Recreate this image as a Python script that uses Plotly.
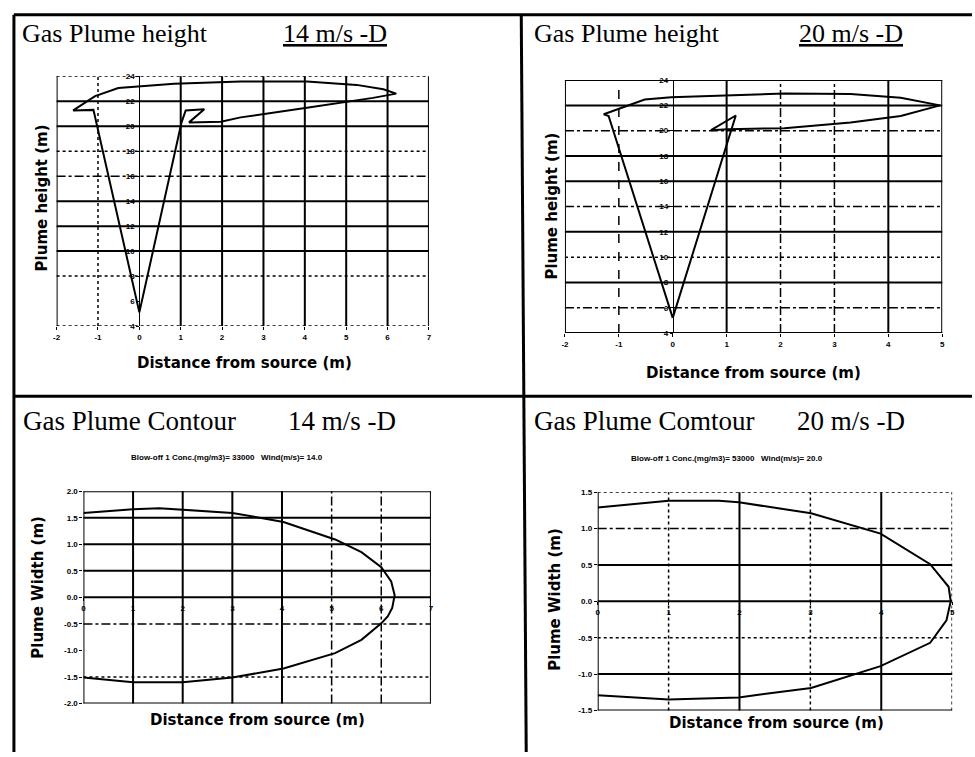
import plotly.graph_objects as go

W, H = 975, 757

# ---------------- data ----------------
# Gas plume height, 14 m/s
h14_x = [0.00, -1.11, -1.60, -1.07, -0.51, 0.84, 2.45, 4.05, 5.25, 5.90, 6.21, 5.65, 4.05, 2.45, 1.97, 1.20, 1.57, 1.12, 1.02, 0.00]
h14_y = [5.1, 21.3, 21.26, 22.4, 23.05, 23.4, 23.58, 23.58, 23.3, 22.95, 22.6, 22.26, 21.47, 20.7, 20.35, 20.3, 21.35, 21.25, 20.3, 5.1]
h14_xticks = [-2, -1, 0, 1, 2, 3, 4, 5, 6, 7]

# Gas plume height, 20 m/s
h20_x = [0.00, -1.19, -1.28, -0.90, -0.52, -0.03, 1.02, 2.07, 3.30, 4.23, 4.96, 4.23, 3.30, 2.07, 1.02, 0.71, 1.17, 0.00]
h20_y = [5.2, 21.16, 21.3, 21.9, 22.46, 22.65, 22.8, 22.93, 22.9, 22.6, 22.0, 21.16, 20.64, 20.2, 20.12, 20.04, 21.2, 5.2]
h20_xticks = [-2, -1, 0, 1, 2, 3, 4, 5]

height_yticks = [4, 6, 8, 10, 12, 14, 16, 18, 20, 22, 24]

# Gas plume contour, 14 m/s
c14_x = [0.0, 1.0, 1.53, 2.0, 3.0, 4.03, 5.07, 5.6, 6.0, 6.2, 6.27, 6.22, 6.13, 6.0, 5.6, 5.07, 4.03, 3.0, 2.0, 1.0, 0.0]
c14_y = [1.59, 1.66, 1.68, 1.65, 1.59, 1.42, 1.09, 0.85, 0.57, 0.3, 0.04, -0.2, -0.36, -0.49, -0.8, -1.05, -1.34, -1.51, -1.6, -1.6, -1.51]
c14_xticks = [0, 1, 2, 3, 4, 5, 6, 7]
c14_yticks = [-2.0, -1.5, -1.0, -0.5, 0.0, 0.5, 1.0, 1.5, 2.0]

# Gas plume contour, 20 m/s
c20_x = [0.0, 1.0, 1.71, 1.99, 3.01, 3.99, 4.69, 4.95, 4.98, 4.92, 4.69, 3.99, 3.01, 1.99, 1.0, 0.0]
c20_y = [1.29, 1.38, 1.38, 1.36, 1.21, 0.93, 0.51, 0.2, 0.0, -0.26, -0.57, -0.89, -1.19, -1.32, -1.35, -1.29]
c20_xticks = [0, 1, 2, 3, 4, 5]
c20_yticks = [-1.5, -1.0, -0.5, 0.0, 0.5, 1.0, 1.5]

titles = ["Gas Plume height", "Gas Plume height", "Gas Plume Contour", "Gas Plume Comtour"]
speeds = ["14 m/s -D", "20 m/s -D", "14 m/s -D", "20 m/s -D"]
subtitles = ["Blow-off 1 Conc.(mg/m3)= 33000   Wind(m/s)= 14.0",
             "Blow-off 1 Conc.(mg/m3)= 53000   Wind(m/s)= 20.0"]
x_title = "Distance from source (m)"
y_titles = ["Plume height (m)", "Plume height (m)", "Plume Width (m)", "Plume Width (m)"]

# ---------------- styling of grid lines (scanned look), in tick order ----------------
S, D, DD, DA, N = "solid", "dot", "dashdot", "dash", None
grid_styles = {
    1: dict(h=[D, N, D, S, S, S, DD, D, S, S, D], v=[S, D, N, S, S, S, S, S, S, S]),
    2: dict(h=[S, DD, S, D, S, DD, S, S, DD, S, S], v=[S, DA, N, S, DD, DD, S, S]),
    3: dict(h=[S, D, N, DD, S, S, S, S, S], v=[S, S, S, S, S, DD, DD, S]),
    4: dict(h=[S, S, D, S, S, DD, D], v=[S, D, S, D, S, D]),
}

def fx(p):
    return p / W

def fy(p):
    return 1 - p / H

# plot boxes in pixels: (left, right, top, bottom)
boxes = {1: (53, 428, 73, 326), 2: (565, 945, 77, 333), 3: (80, 430, 493, 708), 4: (598, 955, 494, 715)}

panels = {
    1: dict(x=h14_x, y=h14_y, xt=h14_xticks, yt=height_yticks, xr=[-2, 7], yr=[4, 24]),
    2: dict(x=h20_x, y=h20_y, xt=h20_xticks, yt=height_yticks, xr=[-2, 5], yr=[4, 24]),
    3: dict(x=c14_x, y=c14_y, xt=c14_xticks, yt=c14_yticks, xr=[0, 7], yr=[-2, 2]),
    4: dict(x=c20_x, y=c20_y, xt=c20_xticks, yt=c20_yticks, xr=[0, 5], yr=[-1.5, 1.5]),
}

fig = go.Figure()
tickfont = dict(family="Arial, Liberation Sans", size=8, color="black", weight="bold")
shapes = []
layout_axes = {}

for i, p in panels.items():
    xid = "x" if i == 1 else f"x{i}"
    yid = "y" if i == 1 else f"y{i}"
    xkey = "xaxis" if i == 1 else f"xaxis{i}"
    ykey = "yaxis" if i == 1 else f"yaxis{i}"
    l, r, t, b = boxes[i]
    fig.add_trace(go.Scatter(x=p["x"], y=p["y"], mode="lines",
                             line=dict(color="black", width=2),
                             xaxis=xid, yaxis=yid, showlegend=False, hoverinfo="skip"))
    xdom = [fx(l), fx(r)]
    ydom = [fy(b), fy(t)]
    xa = dict(domain=xdom, range=p["xr"], tickmode="array", tickvals=p["xt"],
              ticktext=[f"{v:g}" for v in p["xt"]], showgrid=False, zeroline=False,
              showline=False, ticks="outside", ticklen=3, tickcolor="black",
              tickfont=tickfont)
    ya = dict(domain=ydom, range=p["yr"], tickmode="array", tickvals=p["yt"],
              showgrid=False, zeroline=False, ticks="outside", ticklen=3,
              tickcolor="black", tickfont=tickfont)
    if i in (1, 2):
        # y axis crosses at x = 0
        x0px = l + (0 - p["xr"][0]) / (p["xr"][1] - p["xr"][0]) * (r - l)
        ya.update(anchor="free", position=fx(x0px), showline=True, linecolor="black",
                  linewidth=1, ticktext=[f"{v:g}" for v in p["yt"]])
        xa.update(anchor=yid)
    else:
        # x axis crosses at y = 0
        y0px = t + (p["yr"][1] - 0) / (p["yr"][1] - p["yr"][0]) * (b - t)
        xa.update(anchor="free", position=fy(y0px))
        ya.update(anchor=xid, showline=False, ticktext=[f"{v:.1f}" for v in p["yt"]])
    layout_axes[xkey] = xa
    layout_axes[ykey] = ya

    st = grid_styles[i]
    for val, sty in zip(p["yt"], st["h"]):
        if sty is None:
            continue
        shapes.append(dict(type="line", xref=f"{xid} domain", yref=yid, x0=0, x1=1, y0=val, y1=val,
                           line=dict(color="black", width=2 if sty == S else 1.5, dash=sty), layer="below"))
    for val, sty in zip(p["xt"], st["v"]):
        if sty is None:
            continue
        shapes.append(dict(type="line", xref=xid, yref=f"{yid} domain", x0=val, x1=val, y0=0, y1=1,
                           line=dict(color="black", width=2 if sty == S else 1.5, dash=sty), layer="below"))

# page frame lines
frame = [(10, 11, 975, 11), (10, 11, 10, 757), (521, 11, 526, 757), (10, 397, 975, 397)]
for x0, y0, x1, y1 in frame:
    shapes.append(dict(type="line", xref="paper", yref="paper", x0=fx(x0), y0=fy(y0), x1=fx(x1), y1=fy(y1),
                       line=dict(color="black", width=3)))

ann = []
serif = "Liberation Serif, Times New Roman, serif"
sans_b = dict(family="DejaVu Sans, Arial", size=15, color="black", weight="bold")
title_pos = [(16, 30, 279, 26), (532, 30, 799, 26), (17, 422, 284, 27), (532, 422, 797, 27)]
for k, (tx, ty, sx, fs) in enumerate(title_pos):
    ann.append(dict(x=fx(tx), y=fy(ty), xref="paper", yref="paper", text=titles[k], showarrow=False,
                    xanchor="left", yanchor="middle", font=dict(family=serif, size=fs, color="black")))
    sp = f"<u>{speeds[k]}</u>" if k < 2 else speeds[k]
    ann.append(dict(x=fx(sx), y=fy(ty), xref="paper", yref="paper", text=sp, showarrow=False,
                    xanchor="left", yanchor="middle", font=dict(family=serif, size=fs, color="black")))

for k, (cx, cy) in enumerate([(225, 459), (728, 460)]):
    ann.append(dict(x=fx(cx), y=fy(cy), xref="paper", yref="paper", text=subtitles[k], showarrow=False,
                    xanchor="center", yanchor="middle",
                    font=dict(family="Arial, Liberation Sans", size=8, color="black", weight="bold")))

for cx, cy in [(242, 363), (755, 373), (255, 725), (778, 728)]:
    ann.append(dict(x=fx(cx), y=fy(cy), xref="paper", yref="paper", text=x_title, showarrow=False,
                    xanchor="center", yanchor="middle", font=sans_b))

for k, (cx, cy) in enumerate([(38, 196), (552, 205), (34, 590), (555, 603)]):
    ann.append(dict(x=fx(cx), y=fy(cy), xref="paper", yref="paper", text=y_titles[k], showarrow=False,
                    xanchor="center", yanchor="middle", textangle=-90, font=sans_b))

fig.update_layout(width=W, height=H, autosize=False, margin=dict(l=0, r=0, t=0, b=0),
                  paper_bgcolor="white", plot_bgcolor="white", shapes=shapes, annotations=ann,
                  **layout_axes)

fig.write_html("out.html", config={"displayModeBar": False},
               post_script="document.body.style.margin='0';")
